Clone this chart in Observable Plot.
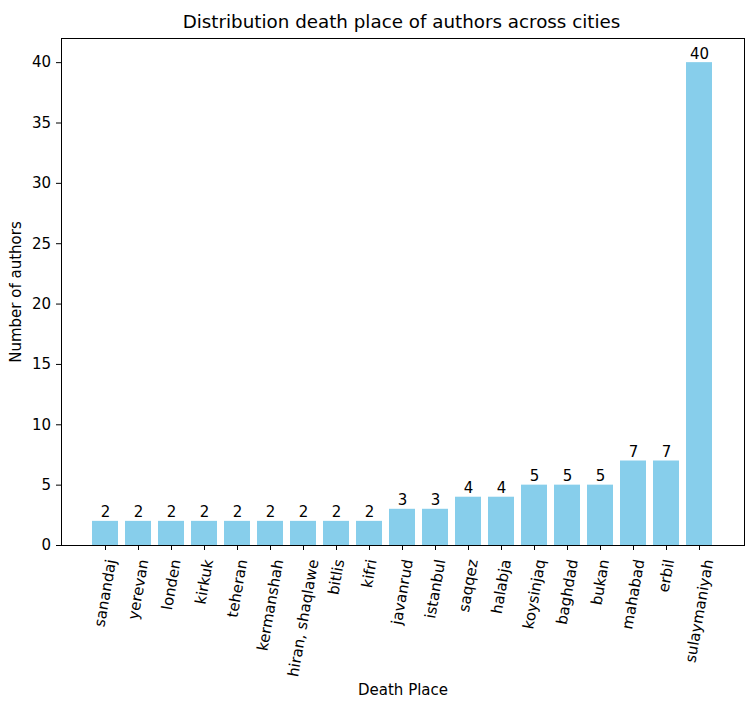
<!DOCTYPE html>
<html><head><meta charset="utf-8">
<script src="https://cdn.jsdelivr.net/npm/d3@7"></script>
<script src="https://cdn.jsdelivr.net/npm/@observablehq/plot@0.6"></script>
<style>
body{margin:0;background:#fff;font-family:"DejaVu Sans",sans-serif;}
#title{height:30px;box-sizing:border-box;padding:11px 5px 0 59px;line-height:22px;font-size:18.3px;text-align:center;color:#000;white-space:nowrap;}
</style></head><body>
<div id="title">Distribution death place of authors across cities</div>
<div id="chart"></div>
<script>
const cities = ["sanandaj","yerevan","londen","kirkuk","teheran","kermanshah","hiran, shaqlawe","bitlis","kifri","javanrud","istanbul","saqqez","halabja","koysinjaq","baghdad","bukan","mahabad","erbil","sulaymaniyah"];
const counts = [2,2,2,2,2,2,2,2,2,3,3,4,4,5,5,5,7,7,40];
const yTicks = [0,5,10,15,20,25,30,35,40];
const data = cities.map((c,i)=>({city:c,count:counts[i]}));
const chart = Plot.plot({
  width:749, height:671,
  marginLeft:61, marginRight:5, marginTop:8, marginBottom:156,
  style:{fontFamily:"DejaVu Sans, sans-serif", fontSize:"15px", color:"#000", background:"#fff", overflow:"visible"},
  x:{domain:cities, paddingInner:0.2, paddingOuter:0.935, label:null},
  y:{domain:[0,42], label:null},
  marks:[
    Plot.barY(data,{x:"city", y:"count", fill:"#87CEEB"}),
    Plot.text(data,{x:"city", y:"count", text:d=>String(d.count), lineAnchor:"bottom", dy:-4, fontSize:15, fill:"#000"}),
    Plot.axisX({tickRotate:-80, tickSize:5, tickPadding:9, label:null, fontSize:15}),
    Plot.axisY({ticks:yTicks, tickSize:5, tickPadding:5.5, label:null, fontSize:15}),
    Plot.frame({stroke:"#000"}),
    Plot.text(["Number of authors"], {frameAnchor:"left", rotate:-90, textAnchor:"middle", dx:-45, fontSize:15, fill:"#000"}),
    Plot.text(["Death Place"], {frameAnchor:"bottom", dy:149, fontSize:15, fill:"#000"})
  ]
});
document.getElementById("chart").appendChild(chart);
// center rotated tick labels horizontally on their ticks (matplotlib ha="center")
d3.select(chart).selectAll('g[aria-label="x-axis tick label"] text').each(function(){
  const L = this.getComputedTextLength();
  const shift = 0.087 * L;
  const t = this.getAttribute("transform") || "";
  this.setAttribute("transform", `translate(${shift},0) ` + t);
});
</script>
</body></html>
